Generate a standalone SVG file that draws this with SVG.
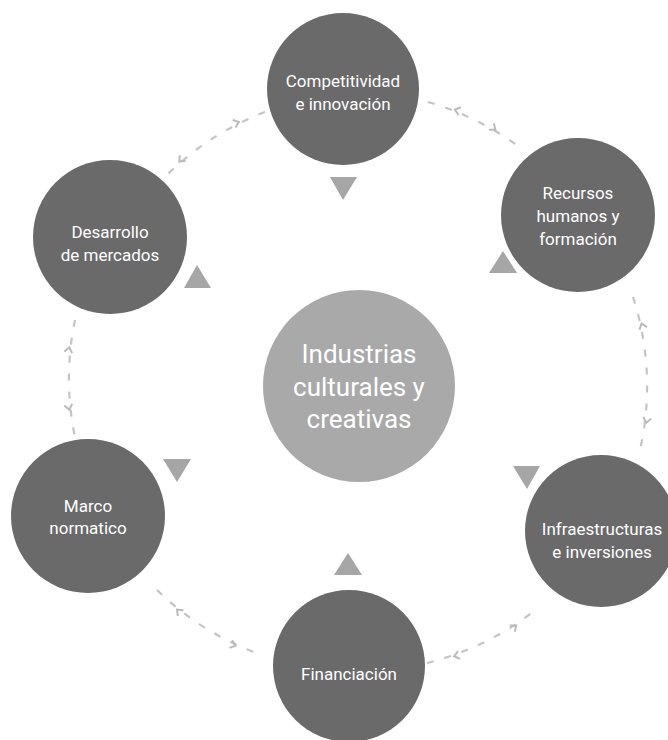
<svg xmlns="http://www.w3.org/2000/svg" width="668" height="740" viewBox="0 0 668 740">
<style>
.node{fill:#6a6a6a}
.hub{fill:#a9a9a9}
.lbl{font-family:Roboto,"Liberation Sans",sans-serif;font-size:17px;fill:#ffffff;text-anchor:middle}
.hlbl{font-family:Roboto,"Liberation Sans",sans-serif;font-size:26px;fill:#ffffff;text-anchor:middle}
.tri{fill:#a6a6a6}
.con{fill:none;stroke:#c4c4c4;stroke-width:2.2;stroke-dasharray:7 11;marker-start:url(#chev);marker-end:url(#chev)}
</style>
<defs>
<marker id="chev" markerUnits="userSpaceOnUse" orient="auto-start-reverse" refX="28" refY="0" markerWidth="10" markerHeight="10" overflow="visible">
<path d="M -5 -4 L 0 0 L -5 4" fill="none" stroke="#bababa" stroke-width="2"/>
</marker>
</defs>
<rect width="668" height="740" fill="#ffffff"/>
<g id="connectors">
<path class="con" d="M 265 112 A 285 285 0 0 0 160 182"/>
<path class="con" d="M 428 102 A 288 288 0 0 1 518 146"/>
<path class="con" d="M 633 297 A 290 290 0 0 1 640 450"/>
<path class="con" d="M 75 320 A 285 285 0 0 0 75 437"/>
<path class="con" d="M 157 590 A 285 285 0 0 0 262 655"/>
<path class="con" d="M 427 663 A 288 288 0 0 0 538 608"/>
</g>
<g id="triangles">
<polygon class="tri" points="330,177 357,177 343,200"/>
<polygon class="tri" points="184,288 211,288 197,265"/>
<polygon class="tri" points="163,459 191,459 177,482"/>
<polygon class="tri" points="489,273 517,273 503,251"/>
<polygon class="tri" points="513,466 540,466 527,489"/>
<polygon class="tri" points="334,575 362,575 348,553"/>
</g>
<g id="hub">
<circle class="hub" cx="359" cy="386" r="96"/>
<text class="hlbl" x="359" y="363">Industrias</text>
<text class="hlbl" x="359" y="396">culturales y</text>
<text class="hlbl" x="359" y="428">creativas</text>
</g>
<g id="competitividad">
<circle class="node" cx="343" cy="89" r="76"/>
<text class="lbl" x="343" y="87">Competitividad</text>
<text class="lbl" x="343" y="110">e innovación</text>
</g>
<g id="recursos">
<circle class="node" cx="578" cy="215" r="77"/>
<text class="lbl" x="578" y="199">Recursos</text>
<text class="lbl" x="578" y="222">humanos y</text>
<text class="lbl" x="578" y="245">formación</text>
</g>
<g id="desarrollo">
<circle class="node" cx="110" cy="237" r="77"/>
<text class="lbl" x="110" y="238">Desarrollo</text>
<text class="lbl" x="110" y="261">de mercados</text>
</g>
<g id="marco">
<circle class="node" cx="88" cy="516" r="77"/>
<text class="lbl" x="88" y="512">Marco</text>
<text class="lbl" x="88" y="534">normatico</text>
</g>
<g id="infraestructuras">
<circle class="node" cx="601" cy="531" r="76"/>
<text class="lbl" x="602" y="535">Infraestructuras</text>
<text class="lbl" x="602" y="558">e inversiones</text>
</g>
<g id="financiacion">
<circle class="node" cx="349" cy="666" r="76"/>
<text class="lbl" x="349" y="680">Financiación</text>
</g>
</svg>
